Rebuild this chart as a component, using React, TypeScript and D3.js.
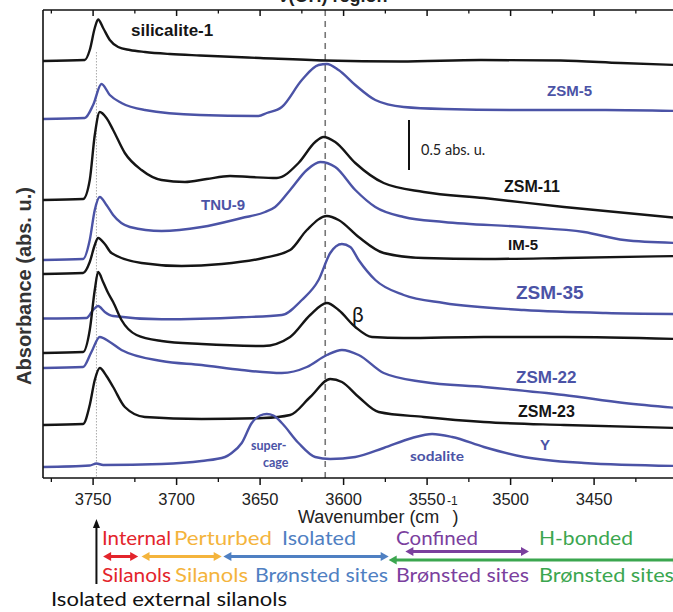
import React from 'react';
import * as d3 from 'd3';

const W = 673;
const H = 612;

// tick values (cm-1)
const majorTicks = [3750, 3700, 3650, 3600, 3550, 3500, 3450];
const minorTicks = [3775, 3725, 3675, 3625, 3575, 3525, 3475, 3425];

// spectra: [wavenumber, absorbance (stacked, abs. u.)]
const silicalite1: [number, number][] = [
  [3780, 4.17], [3755, 4.18], [3752, 4.28], [3749, 4.5], [3747, 4.585], [3744, 4.5], [3740, 4.38],
  [3735, 4.31], [3728, 4.28], [3719, 4.26], [3704, 4.24], [3686, 4.225], [3650, 4.2], [3611, 4.175],
  [3566, 4.165], [3518, 4.18], [3470, 4.175], [3434, 4.15], [3400, 4.13],
];
const zsm5: [number, number][] = [
  [3780, 3.59], [3755, 3.6], [3750, 3.73], [3745, 3.94], [3740, 3.83], [3733, 3.75], [3719, 3.68],
  [3686, 3.63], [3651, 3.62], [3646, 3.65], [3637, 3.71], [3625, 3.98], [3615, 4.13], [3610, 4.14],
  [3603, 4.08], [3593, 3.93], [3581, 3.78], [3564, 3.71], [3540, 3.69], [3492, 3.68], [3443, 3.68],
  [3400, 3.67],
];
const zsm11: [number, number][] = [
  [3780, 2.78], [3756, 2.79], [3752, 2.98], [3749, 3.43], [3746, 3.66], [3742, 3.6], [3738, 3.48],
  [3731, 3.25], [3721, 3.08], [3709, 2.98], [3695, 2.96], [3682, 2.99], [3668, 3.02], [3656, 3.01],
  [3640, 3.0], [3627, 3.15], [3617, 3.36], [3612, 3.41], [3605, 3.36], [3593, 3.15], [3576, 2.95],
  [3552, 2.86], [3516, 2.8], [3468, 2.71], [3400, 2.6],
];
const tnu9: [number, number][] = [
  [3780, 2.18], [3756, 2.19], [3752, 2.38], [3749, 2.68], [3746, 2.81], [3742, 2.73], [3738, 2.63],
  [3728, 2.51], [3709, 2.47], [3685, 2.51], [3661, 2.6], [3647, 2.66], [3641, 2.71], [3632, 2.88],
  [3622, 3.08], [3614, 3.16], [3605, 3.11], [3593, 2.88], [3581, 2.71], [3564, 2.61], [3540, 2.56],
  [3492, 2.51], [3456, 2.46], [3432, 2.38], [3400, 2.35],
];
const im5: [number, number][] = [
  [3780, 2.04], [3756, 2.05], [3752, 2.16], [3749, 2.33], [3747, 2.4], [3743, 2.34], [3739, 2.25],
  [3721, 2.15], [3697, 2.12], [3673, 2.14], [3648, 2.2], [3632, 2.28], [3622, 2.48], [3610, 2.62],
  [3603, 2.58], [3591, 2.41], [3576, 2.25], [3552, 2.2], [3516, 2.19], [3468, 2.2], [3400, 2.22],
];
const zsm35: [number, number][] = [
  [3780, 1.595], [3754, 1.6], [3750, 1.68], [3747, 1.72], [3743, 1.66], [3738, 1.62], [3709, 1.587],
  [3661, 1.607], [3637, 1.63], [3625, 1.78], [3615, 1.98], [3608, 2.25], [3601, 2.34], [3596, 2.31],
  [3591, 2.18], [3581, 1.98], [3564, 1.83], [3540, 1.75], [3492, 1.68], [3443, 1.65], [3400, 1.64],
];
const beta: [number, number][] = [
  [3780, 1.25], [3756, 1.26], [3752, 1.48], [3749, 1.88], [3747, 2.06], [3744, 1.96], [3741, 1.85],
  [3738, 1.76], [3733, 1.58], [3724, 1.43], [3709, 1.37], [3685, 1.34], [3648, 1.32], [3632, 1.41],
  [3620, 1.63], [3610, 1.75], [3603, 1.68], [3593, 1.51], [3583, 1.41], [3564, 1.4], [3516, 1.41],
  [3468, 1.41], [3400, 1.39],
];
const zsm22: [number, number][] = [
  [3780, 1.1], [3756, 1.11], [3751, 1.26], [3746, 1.41], [3740, 1.36], [3733, 1.28], [3709, 1.17],
  [3685, 1.13], [3661, 1.08], [3637, 1.05], [3622, 1.11], [3610, 1.23], [3601, 1.28], [3591, 1.23],
  [3576, 1.05], [3552, 0.96], [3516, 0.91], [3468, 0.83], [3432, 0.75], [3400, 0.7],
];
const zsm23: [number, number][] = [
  [3780, 0.53], [3756, 0.54], [3752, 0.73], [3749, 0.98], [3746, 1.1], [3742, 1.02], [3738, 0.91],
  [3731, 0.71], [3719, 0.61], [3685, 0.59], [3648, 0.6], [3632, 0.63], [3620, 0.81], [3608, 0.99],
  [3601, 0.96], [3591, 0.81], [3579, 0.66], [3552, 0.61], [3516, 0.56], [3468, 0.53], [3400, 0.5],
];
const zeoliteY: [number, number][] = [
  [3780, 0.11], [3752, 0.125], [3748, 0.145], [3744, 0.13], [3709, 0.14], [3685, 0.17], [3671, 0.21],
  [3667, 0.25], [3661, 0.35], [3655, 0.55], [3650, 0.625], [3646, 0.64], [3642, 0.625], [3637, 0.55],
  [3627, 0.35], [3617, 0.21], [3608, 0.19], [3593, 0.21], [3576, 0.3], [3559, 0.4], [3547, 0.44],
  [3535, 0.41], [3516, 0.31], [3492, 0.21], [3456, 0.15], [3400, 0.12],
];

const BLACK = '#151515';
const BLUE = '#4b53a6';

const series = [
  { name: 'silicalite-1', data: silicalite1, color: BLACK },
  { name: 'ZSM-5', data: zsm5, color: BLUE },
  { name: 'ZSM-11', data: zsm11, color: BLACK },
  { name: 'TNU-9', data: tnu9, color: BLUE },
  { name: 'IM-5', data: im5, color: BLACK },
  { name: 'ZSM-35', data: zsm35, color: BLUE },
  { name: 'β', data: beta, color: BLACK },
  { name: 'ZSM-22', data: zsm22, color: BLUE },
  { name: 'ZSM-23', data: zsm23, color: BLACK },
  { name: 'Y', data: zeoliteY, color: BLUE },
];

// region annotations below the axis (wavenumber ranges)
const regionNames = ['Internal', 'Perturbed', 'Isolated', 'Confined', 'H-bonded'];
const regionSub = ['Silanols', 'Silanols', 'Brønsted sites', 'Brønsted sites', 'Brønsted sites'];
const regionRanges: [number, number][] = [
  [3744, 3723], [3721, 3673], [3672, 3573], [3563, 3489], [3573, 3398],
];
const regionColors = ['#e3242b', '#f4b43c', '#4f80c2', '#7b3f9e', '#3ba64f'];
const externalSilanol = 3748;
const dashedRef = 3611;

const x = d3.scaleLinear().domain([3780, 3400]).range([43, 677.6]);
const y = d3.scaleLinear().domain([0, 4.68]).range([478, 10]);

const line = d3
  .line<[number, number]>()
  .x((d) => x(d[0]))
  .y((d) => y(d[1]))
  .curve(d3.curveMonotoneX);

const SANS = '"Liberation Sans", Arial, sans-serif';
const CAL = 'Lato, "Open Sans", sans-serif';

function DoubleArrow({ x1, x2, yy, color }: { x1: number; x2: number; yy: number; color: string }) {
  const h = 8;
  const w = 4.5;
  return (
    <g>
      <line x1={x1 + h - 1} x2={x2 - h + 1} y1={yy} y2={yy} stroke={color} strokeWidth={3} />
      <polygon points={`${x1},${yy} ${x1 + h},${yy - w} ${x1 + h},${yy + w}`} fill={color} />
      <polygon points={`${x2},${yy} ${x2 - h},${yy - w} ${x2 - h},${yy + w}`} fill={color} />
    </g>
  );
}

export default function App() {
  const left = 43;
  const top = 10;
  const bottom = 478;
  const right = 700;
  const arrowY = [556.5, 556.5, 556.5, 551.5, 560];
  const nameX = [102, 174, 282, 396, 539];
  const nameLen = [69, 98, 74, 82, 94];
  const subX = [102, 175, 255, 396, 539];
  const subLen = [69, 73, 133, 133, 135];
  return (
    <svg width={W} height={H} style={{ position: 'absolute', left: 0, top: 0, background: '#fff' }}>
      <defs>
        <clipPath id="plot">
          <rect x={left} y={top} width={right - left} height={bottom - top} />
        </clipPath>
      </defs>
      {/* cut-off title (only its lowest edge is visible) */}
      <text x={333} y={1.5} textAnchor="middle" fontFamily={SANS} fontWeight="bold" fontSize={18} fill="#222">
        ν(OH) region
      </text>

      {/* reference lines */}
      <line x1={x(externalSilanol)} x2={x(externalSilanol)} y1={52} y2={bottom} stroke="#aaa" strokeWidth={1} strokeDasharray="1.5 1.5" />
      <line x1={x(dashedRef)} x2={x(dashedRef)} y1={top} y2={bottom} stroke="#777" strokeWidth={1.6} strokeDasharray="6 5" />

      {/* spectra */}
      <g clipPath="url(#plot)">
        {series.map((s) => (
          <path key={s.name} d={line(s.data) || ''} fill="none" stroke={s.color} strokeWidth={2.4} strokeLinejoin="round" />
        ))}
      </g>

      {/* frame */}
      <line x1={left} x2={left} y1={top} y2={bottom} stroke="#111" strokeWidth={1.6} />
      <line x1={left} x2={right} y1={top} y2={top} stroke="#111" strokeWidth={1.6} />
      <line x1={left} x2={right} y1={bottom} y2={bottom} stroke="#111" strokeWidth={1.6} />

      {/* ticks */}
      {majorTicks.map((t) => (
        <g key={'M' + t}>
          <line x1={x(t)} x2={x(t)} y1={top} y2={top + 6} stroke="#111" strokeWidth={1.5} />
          <line x1={x(t)} x2={x(t)} y1={bottom} y2={bottom + 7} stroke="#111" strokeWidth={1.5} />
          <text x={x(t)} y={505} textAnchor="middle" fontFamily={SANS} fontSize={16.5} fill="#222">
            {t}
          </text>
        </g>
      ))}
      {minorTicks.map((t) => (
        <g key={'m' + t}>
          <line x1={x(t)} x2={x(t)} y1={top} y2={top + 3.5} stroke="#111" strokeWidth={1.3} />
          <line x1={x(t)} x2={x(t)} y1={bottom} y2={bottom + 4} stroke="#111" strokeWidth={1.3} />
        </g>
      ))}

      {/* axis titles */}
      <text x={298} y={523} fontFamily={SANS} fontSize={18} fill="#222">
        Wavenumber (cm<tspan dx={13}>)</tspan>
      </text>
      <text x={447} y={505} fontFamily={SANS} fontSize={12} fill="#222">-1</text>
      <text
        transform="translate(31,286) rotate(-90)"
        textAnchor="middle"
        fontFamily={SANS}
        fontWeight="bold"
        fontSize={20}
        fill="#333"
      >
        Absorbance (abs. u.)
      </text>

      {/* scale bar */}
      <line x1={409} x2={409} y1={y(3.58)} y2={y(3.08)} stroke="#111" strokeWidth={2} />
      <text x={421} y={155} fontFamily={CAL} fontSize={14.5} fill="#222">0.5 abs. u.</text>

      {/* spectrum labels */}
      <g fontFamily={SANS} fontWeight="bold">
        <text x={131} y={36} fontSize={17} fill={BLACK}>silicalite-1</text>
        <text x={547} y={96} fontSize={15} fill={BLUE}>ZSM-5</text>
        <text x={504} y={192} fontSize={16} fill={BLACK}>ZSM-11</text>
        <text x={201} y={210} fontSize={15} fill={BLUE}>TNU-9</text>
        <text x={508} y={250} fontSize={15} fill={BLACK}>IM-5</text>
        <text x={516} y={299} fontSize={19} fill={BLUE}>ZSM-35</text>
        <text x={516} y={383} fontSize={17} fill={BLUE}>ZSM-22</text>
        <text x={518} y={417} fontSize={16} fill={BLACK}>ZSM-23</text>
        <text x={540} y={450} fontSize={15} fill={BLUE}>Y</text>
      </g>
      <text x={352} y={322} fontFamily={CAL} fontSize={21} fill={BLACK}>β</text>
      <g fontFamily={CAL} fontWeight="bold" fontSize={12.5} fill={BLUE}>
        <text x={251} y={450}>super-</text>
        <text x={263} y={467}>cage</text>
        <text x={410} y={461} textLength={54} lengthAdjust="spacingAndGlyphs">sodalite</text>
      </g>

      {/* region annotations */}
      <line x1={x(externalSilanol)} x2={x(externalSilanol)} y1={584} y2={527} stroke="#111" strokeWidth={2} />
      <polygon
        points={`${x(externalSilanol)},519 ${x(externalSilanol) - 3.5},528 ${x(externalSilanol) + 3.5},528`}
        fill="#111"
      />
      {regionNames.map((n, i) => (
        <g key={n}>
          <DoubleArrow x1={x(regionRanges[i][0])} x2={x(regionRanges[i][1])} yy={arrowY[i]} color={regionColors[i]} />
          <text
            x={nameX[i]}
            y={545}
            fontFamily={CAL}
            fontSize={19.5}
            fill={regionColors[i]}
            textLength={nameLen[i]}
            lengthAdjust="spacingAndGlyphs"
          >
            {n}
          </text>
          <text
            x={subX[i]}
            y={582}
            fontFamily={CAL}
            fontSize={19.5}
            fill={regionColors[i]}
            textLength={subLen[i]}
            lengthAdjust="spacingAndGlyphs"
          >
            {regionSub[i]}
          </text>
        </g>
      ))}
      <text x={51} y={606} fontFamily={CAL} fontSize={19.5} fill="#111" textLength={236} lengthAdjust="spacingAndGlyphs">
        Isolated external silanols
      </text>
    </svg>
  );
}
